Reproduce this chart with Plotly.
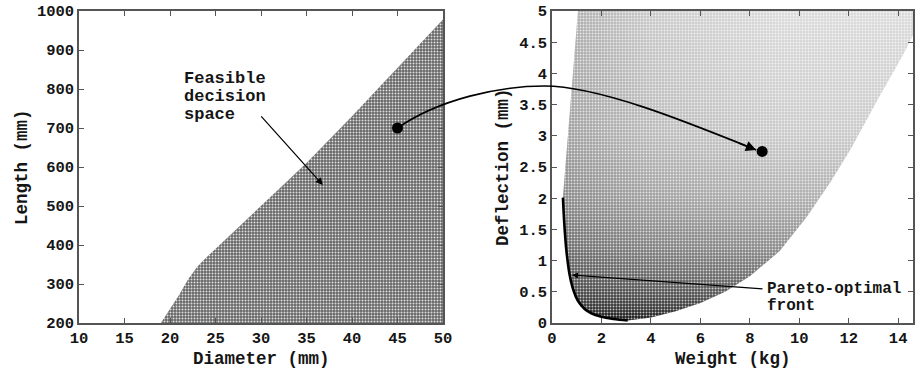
import plotly.graph_objects as go

# ---------------- data ----------------
# Feasible decision space boundary (diameter mm, length mm)
feas_d = [19.0, 20, 21, 22, 23, 24, 25, 30, 35, 40, 45, 50, 50]
feas_l = [200, 235, 272, 312, 344, 368, 390, 498, 610, 730, 855, 978, 200]

# Pareto-optimal front (weight kg, deflection mm)
front_w = [0.442, 0.49, 0.54, 0.593, 0.705, 0.828, 0.96, 1.10, 1.33, 1.59, 1.96, 2.48, 3.06]
front_dfl = [2.01, 1.64, 1.35, 1.12, 0.79, 0.574, 0.427, 0.323, 0.221, 0.156, 0.103, 0.064, 0.042]

# right (max-diameter) boundary of objective space
right_w = [3.06, 4.0, 5.0, 6.0, 7.0, 8.0, 9.2, 10.3, 11.25, 12.1, 13.2, 14.2, 15.1]
right_dfl = [0.042, 0.09, 0.19, 0.32, 0.50, 0.75, 1.15, 1.70, 2.25, 2.80, 3.60, 4.30, 5.0]

# left (stress-limited) boundary, top to bottom
left_w = [1.05, 0.75, 0.442]
left_dfl = [5.0, 3.5, 2.01]

# shading of the objective-space scatter (dense near the front)
shade_dfl = [0.04, 0.12, 0.25, 0.5, 0.8, 1.2, 2.0, 3.0, 5.0]
shade_col = ["#141414", "#242424", "#3a3a3a", "#575757", "#6e6e6e",
             "#888888", "#acacac", "#c8c8c8", "#dadada"]

# highlighted design and its image
pt_d, pt_l = 45, 700
pt_w, pt_dfl = 8.5, 2.75

# ---------------- layout geometry ----------------
W, H = 915, 369
ML, MR, MT, MB = 0, 0, 11, 46
dom_left = [79 / W, 443 / W]
dom_right = [552 / W, 913 / W]
xr_left, yr_left = [10, 50], [200, 1000]
xr_right, yr_right = [0, 14.6], [0, 5]

FONT = "Liberation Mono, Courier New, monospace"
INK = "#151515"
AX = "#555555"
NOLINE = dict(width=0, color="rgba(0,0,0,0)")

fig = go.Figure()

# ---- left panel: feasible decision space ----
fig.add_trace(go.Scatter(
    x=feas_d, y=feas_l, mode="lines", fill="toself", line=NOLINE,
    fillcolor="#656565", xaxis="x", yaxis="y", hoverinfo="skip"))
fig.add_trace(go.Scatter(
    x=feas_d, y=feas_l, mode="lines", fill="toself", line=NOLINE,
    fillpattern=dict(shape=".", size=3, solidity=0.35, fgcolor="white",
                     fgopacity=0.8, bgcolor="rgba(0,0,0,0)"),
    xaxis="x", yaxis="y", hoverinfo="skip"))

fig.add_trace(go.Scatter(
    x=[pt_d], y=[pt_l], mode="markers",
    marker=dict(size=11, color="black"), xaxis="x", yaxis="y"))

# ---- right panel: objective space ----
full_x = front_w + right_w[1:] + left_w
full_y = front_dfl + right_dfl[1:] + left_dfl
lo, hi = min(full_y), max(full_y)
vscale = [[(d - lo) / (hi - lo), c] for d, c in zip(shade_dfl, shade_col)]
vscale[0][0], vscale[-1][0] = 0.0, 1.0

fig.add_trace(go.Scatter(
    x=full_x, y=full_y, mode="lines", fill="toself", line=NOLINE,
    fillgradient=dict(type="vertical", colorscale=vscale),
    xaxis="x2", yaxis="y2", hoverinfo="skip"))
fig.add_trace(go.Scatter(
    x=full_x, y=full_y, mode="lines", fill="toself", line=NOLINE,
    fillgradient=dict(type="horizontal",
                      colorscale=[[0, "rgba(0,0,0,0.22)"],
                                  [0.25, "rgba(0,0,0,0.08)"],
                                  [0.6, "rgba(0,0,0,0)"],
                                  [1, "rgba(0,0,0,0)"]]),
    xaxis="x2", yaxis="y2", hoverinfo="skip"))
fig.add_trace(go.Scatter(
    x=full_x, y=full_y, mode="lines", fill="toself", line=NOLINE,
    fillpattern=dict(shape=".", size=3, solidity=0.35, fgcolor="white",
                     fgopacity=0.7, bgcolor="rgba(0,0,0,0)"),
    xaxis="x2", yaxis="y2", hoverinfo="skip"))

# Pareto-optimal front line
fig.add_trace(go.Scatter(
    x=front_w, y=front_dfl, mode="lines",
    line=dict(color="black", width=2.6, shape="spline"),
    xaxis="x2", yaxis="y2", hoverinfo="skip"))

fig.add_trace(go.Scatter(
    x=[pt_w], y=[pt_dfl], mode="markers",
    marker=dict(size=11, color="black"), xaxis="x2", yaxis="y2"))

# ---------------- axes ----------------
tickfont = dict(family=FONT, size=15.5, color=INK, weight="bold")
titlefont = dict(family=FONT, size=17.5, color=INK, weight="bold")
common = dict(showgrid=False, zeroline=False, showline=True, linecolor=AX,
              linewidth=1.5, mirror="ticks", ticks="inside", ticklen=5,
              tickcolor=AX, tickwidth=1.2, tickfont=tickfont,
              automargin=False)

fig.update_layout(
    xaxis=dict(domain=dom_left, range=xr_left, dtick=5, tick0=10,
               anchor="y", **common),
    yaxis=dict(domain=[0, 1], range=yr_left, dtick=100, tick0=200,
               anchor="x", **common),
    xaxis2=dict(domain=dom_right, range=xr_right, dtick=2, tick0=0,
                anchor="y2", **common),
    yaxis2=dict(domain=[0, 1], range=yr_right, dtick=0.5, tick0=0,
                anchor="x2", **common),
)


# ---------------- annotations / connecting arrow ----------------
def px_to_paper(px, py):
    return (px - ML) / (W - ML - MR), (H - MB - py) / (H - MT - MB)


def data_to_px(x, y, dom, xr, yr):
    px = (dom[0] + (x - xr[0]) / (xr[1] - xr[0]) * (dom[1] - dom[0])) * W
    py = MT + (1 - (y - yr[0]) / (yr[1] - yr[0])) * (H - MT - MB)
    return px, py


# axis titles
for txt, (px, py), ang in [("Diameter (mm)", (261, 359), 0),
                           ("Weight (kg)", (733, 359), 0),
                           ("Length (mm)", (22, 167), -90),
                           ("Deflection (mm)", (503, 167), -90)]:
    x, y = px_to_paper(px, py)
    fig.add_annotation(x=x, y=y, xref="paper", yref="paper", text=txt,
                       showarrow=False, xanchor="center", yanchor="middle",
                       textangle=ang, font=titlefont, borderpad=0)

p0 = data_to_px(pt_d, pt_l, dom_left, xr_left, yr_left)
p3d = data_to_px(pt_w, pt_dfl, dom_right, xr_right, yr_right)
p3 = (p3d[0] - 6, p3d[1] - 1.5)
peak = (p0[0] + 147, p0[1] - 42)
c1 = (p0[0] + 42, p0[1] - 29)
c2 = (peak[0] - 45, peak[1])
c3 = (peak[0] + 55, peak[1])
c4 = (p3[0] - 67, p3[1] - 27)


def P(pt):
    x, y = px_to_paper(*pt)
    return f"{x:.5f},{y:.5f}"


path = (f"M {P(p0)} C {P(c1)} {P(c2)} {P(peak)} "
        f"C {P(c3)} {P(c4)} {P(p3)}")
fig.add_shape(type="path", path=path, xref="paper", yref="paper",
              line=dict(color="black", width=1.6))

tipx, tipy = px_to_paper(*p3)
fig.add_annotation(x=tipx, y=tipy, xref="paper", yref="paper", text="",
                   showarrow=True, ax=-19, ay=-7.5, arrowhead=2,
                   arrowsize=1.3, arrowwidth=1.6, arrowcolor="black",
                   standoff=0)

annfont_l = dict(family=FONT, size=17, color=INK, weight="bold")
annfont_r = dict(family=FONT, size=16, color=INK, weight="bold")
for i, txt in enumerate(["Feasible", "decision", "space"]):
    x, y = px_to_paper(183, 78 + 18 * i)
    fig.add_annotation(x=x, y=y, xref="paper", yref="paper", text=txt,
                       showarrow=False, xanchor="left", yanchor="middle",
                       font=annfont_l, borderpad=0)

# pointer to feasible region
fig.add_annotation(x=36.8, y=554, xref="x", yref="y", text="",
                   showarrow=True, ax=-63, ay=-70, arrowhead=2,
                   arrowsize=1.2, arrowwidth=1.2, arrowcolor="black",
                   standoff=0)

for i, txt in enumerate(["Pareto-optimal", "front"]):
    x, y = px_to_paper(766, 289 + 17 * i)
    fig.add_annotation(x=x, y=y, xref="paper", yref="paper", text=txt,
                       showarrow=False, xanchor="left", yanchor="middle",
                       font=annfont_r, borderpad=0)

fig.add_annotation(x=0.81, y=0.77, xref="x2", yref="y2", text="",
                   showarrow=True, ax=192, ay=14, arrowhead=2,
                   arrowsize=1.0, arrowwidth=1.2, arrowcolor="black",
                   standoff=0)

fig.update_layout(width=W, height=H, margin=dict(l=ML, r=MR, t=MT, b=MB),
                  paper_bgcolor="white", plot_bgcolor="white",
                  showlegend=False)

fig.write_html("out.html", config={"displayModeBar": False},
               post_script="document.body.style.margin='0';"
                           "document.body.style.overflow='hidden';")
